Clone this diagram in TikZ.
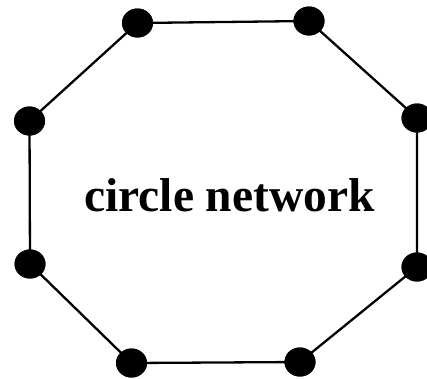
\documentclass[tikz,border=0pt]{standalone}
\usepackage{fontspec}
\setmainfont{Liberation Serif}
\usetikzlibrary{shapes.geometric}
\begin{document}
\begin{tikzpicture}[x=1pt,y=-1pt,
  dot/.style={ellipse,fill=black,draw=none,minimum width=31pt,minimum height=29pt,inner sep=0pt},
  edge/.style={draw=black,line width=2.3pt}]
\useasboundingbox (0,0) rectangle (427,378);
\node[dot] (tl) at (137.5,23) {};
\node[dot] (tr) at (309,21) {};
\node[dot] (r1) at (417,118) {};
\node[dot] (r2) at (417,267) {};
\node[dot] (b2) at (300,362) {};
\node[dot] (b1) at (131.5,363) {};
\node[dot] (l2) at (30,264) {};
\node[dot] (l1) at (29.5,121) {};
\draw[edge] (tl.center) -- (tr.center) -- (r1.center) -- (r2.center) -- (b2.center) -- (b1.center) -- (l2.center) -- (l1.center) -- (tl.center);
\node[dot] at (tl) {};
\node[dot] at (tr) {};
\node[dot] at (r1) {};
\node[dot] at (r2) {};
\node[dot] at (b2) {};
\node[dot] at (b1) {};
\node[dot] at (l2) {};
\node[dot] at (l1) {};
\node[anchor=base,inner sep=0pt,font=\fontsize{47.5}{52}\selectfont\bfseries] (label) at (229.5,211) {circle network};
\end{tikzpicture}
\end{document}
